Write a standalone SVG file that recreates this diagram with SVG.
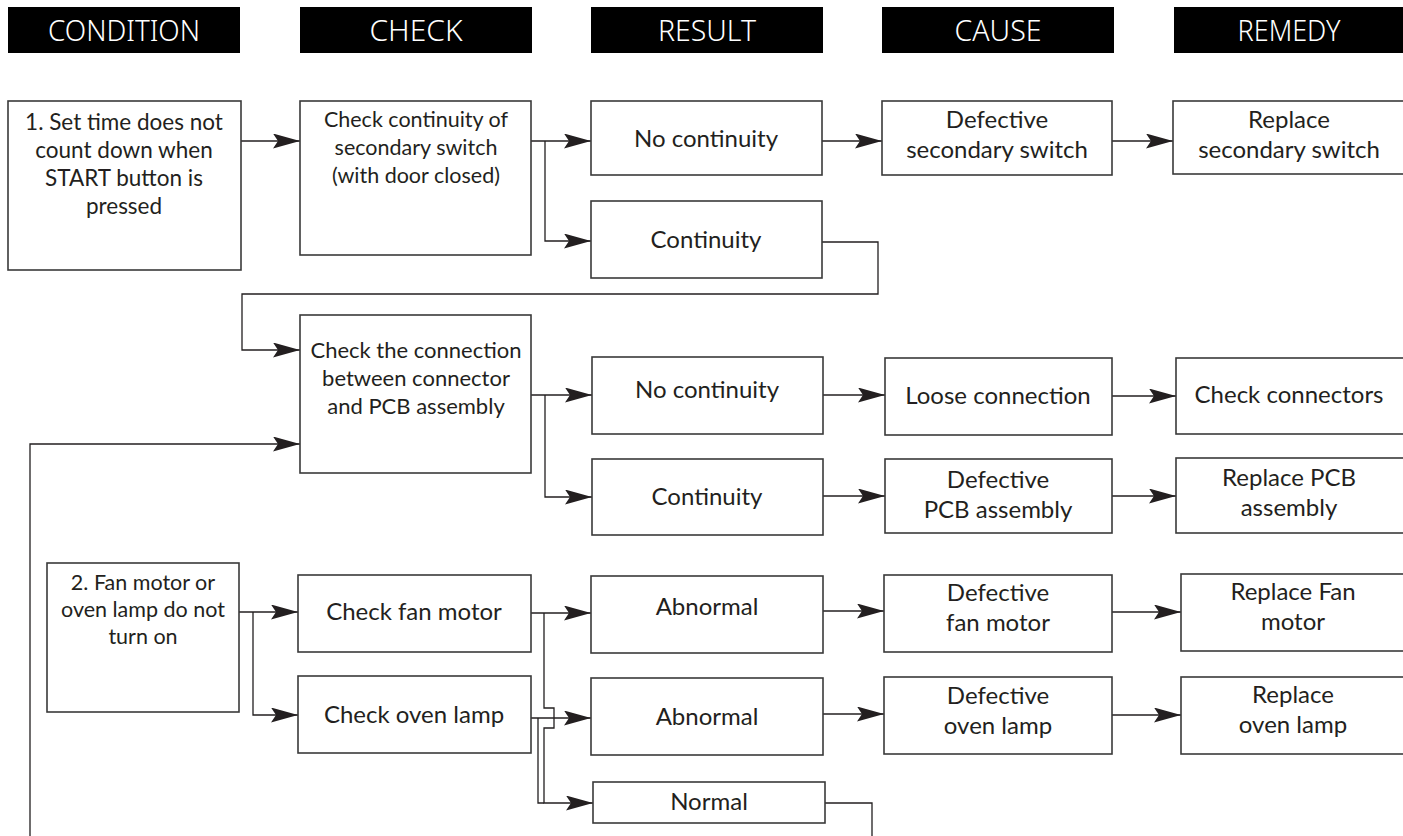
<svg xmlns="http://www.w3.org/2000/svg" width="1403" height="836" viewBox="0 0 1403 836">
<style>
.hdr{fill:#000}
.ht{fill:#fff;font-family:"Noto Sans","DejaVu Sans",sans-serif;font-weight:300;font-size:30px;text-anchor:middle}
.box{fill:#fff;stroke:#3a3a3a;stroke-width:1.6}
.t{fill:#231f20;font-family:Lato,"Liberation Sans",sans-serif;text-anchor:middle}
.s21{font-size:21.5px}.s22{font-size:22px}.s225{font-size:22.5px}.s24{font-size:24px}
.c{fill:none;stroke:#231f20;stroke-width:1.3}
</style>
<defs>
<marker id="ah" markerUnits="userSpaceOnUse" markerWidth="28" markerHeight="16" refX="27" refY="7.5" orient="auto">
<path d="M0,0 L27,7.5 L0,15 L5,7.5 z" fill="#231f20"/>
</marker>
</defs>
<g id="headers">
<rect class="hdr" x="8" y="7" width="232" height="46"/><text class="ht" x="124" y="41" textLength="152" lengthAdjust="spacingAndGlyphs">CONDITION</text>
<rect class="hdr" x="300" y="7" width="232" height="46"/><text class="ht" x="416" y="41" textLength="93" lengthAdjust="spacingAndGlyphs">CHECK</text>
<rect class="hdr" x="591" y="7" width="232" height="46"/><text class="ht" x="707" y="41" textLength="98" lengthAdjust="spacingAndGlyphs">RESULT</text>
<rect class="hdr" x="882" y="7" width="232" height="46"/><text class="ht" x="998" y="41" textLength="87" lengthAdjust="spacingAndGlyphs">CAUSE</text>
<rect class="hdr" x="1174" y="7" width="232" height="46"/><text class="ht" x="1289" y="41" textLength="103" lengthAdjust="spacingAndGlyphs">REMEDY</text>
</g>
<g id="connectors" class="c">
<path d="M241,141 H300" marker-end="url(#ah)"/>
<path d="M531,141 H591" marker-end="url(#ah)"/>
<path d="M545,141 V241 H591" marker-end="url(#ah)"/>
<path d="M822,141 H882" marker-end="url(#ah)"/>
<path d="M1112,141 H1173" marker-end="url(#ah)"/>
<path d="M822,242 H878 V294 H242 V350 H300" marker-end="url(#ah)"/>
<path d="M531,395 H592" marker-end="url(#ah)"/>
<path d="M545,395 V497 H592" marker-end="url(#ah)"/>
<path d="M823,395 H885" marker-end="url(#ah)"/>
<path d="M823,496 H885" marker-end="url(#ah)"/>
<path d="M1112,396 H1176" marker-end="url(#ah)"/>
<path d="M1112,496 H1176" marker-end="url(#ah)"/>
<path d="M239,612 H298" marker-end="url(#ah)"/>
<path d="M253,612 V715 H298" marker-end="url(#ah)"/>
<path d="M531,613 H591" marker-end="url(#ah)"/>
<path d="M544,613 V708 H554 V728 H544 V803 H593" marker-end="url(#ah)"/>
<path d="M531,718 H591" marker-end="url(#ah)"/>
<path d="M538,718 V803 H544"/>
<path d="M823,611 H884" marker-end="url(#ah)"/>
<path d="M823,714 H884" marker-end="url(#ah)"/>
<path d="M1112,612 H1181" marker-end="url(#ah)"/>
<path d="M1112,715 H1181" marker-end="url(#ah)"/>
<path d="M825,803 H872 V836"/>
<path d="M30,836 V444 H300" marker-end="url(#ah)"/>
</g>
<g id="cond1"><rect class="box" x="8" y="101" width="233" height="169"/>
<text class="t s225"><tspan x="124" y="130">1. Set time does not</tspan><tspan x="124" y="158">count down when</tspan><tspan x="124" y="186">START button is</tspan><tspan x="124" y="214">pressed</tspan></text></g>
<g id="check1"><rect class="box" x="300" y="101" width="231" height="154"/>
<text class="t s21"><tspan x="416" y="127">Check continuity of</tspan><tspan x="416" y="155">secondary switch</tspan><tspan x="416" y="183">(with door closed)</tspan></text></g>
<g id="nocont1"><rect class="box" x="591" y="101" width="231" height="74"/>
<text class="t s24" x="706" y="147">No continuity</text></g>
<g id="cont1"><rect class="box" x="591" y="201" width="231" height="77"/>
<text class="t s24" x="706" y="248">Continuity</text></g>
<g id="defsec"><rect class="box" x="882" y="101" width="230" height="74"/>
<text class="t s24"><tspan x="997" y="128">Defective</tspan><tspan x="997" y="158">secondary switch</tspan></text></g>
<g id="repsec"><rect class="box" x="1173" y="101" width="232" height="73"/>
<text class="t s24"><tspan x="1289" y="128">Replace</tspan><tspan x="1289" y="158">secondary switch</tspan></text></g>
<g id="check2"><rect class="box" x="300" y="315" width="231" height="158"/>
<text class="t s22"><tspan x="416" y="358">Check the connection</tspan><tspan x="416" y="386">between connector</tspan><tspan x="416" y="414">and PCB assembly</tspan></text></g>
<g id="nocont2"><rect class="box" x="592" y="357" width="231" height="77"/>
<text class="t s24" x="707" y="398">No continuity</text></g>
<g id="cont2"><rect class="box" x="592" y="459" width="231" height="76"/>
<text class="t s24" x="707" y="505">Continuity</text></g>
<g id="loose"><rect class="box" x="885" y="358" width="227" height="77"/>
<text class="t s24" x="998" y="404">Loose connection</text></g>
<g id="checkconn"><rect class="box" x="1176" y="358" width="230" height="76"/>
<text class="t s24" x="1289" y="403">Check connectors</text></g>
<g id="defpcb"><rect class="box" x="885" y="459" width="227" height="74"/>
<text class="t s24"><tspan x="998" y="488">Defective</tspan><tspan x="998" y="518">PCB assembly</tspan></text></g>
<g id="reppcb"><rect class="box" x="1176" y="458" width="230" height="75"/>
<text class="t s24"><tspan x="1289" y="486">Replace PCB</tspan><tspan x="1289" y="516">assembly</tspan></text></g>
<g id="cond2"><rect class="box" x="47" y="563" width="192" height="149"/>
<text class="t s21"><tspan x="143" y="590">2. Fan motor or</tspan><tspan x="143" y="617">oven lamp do not</tspan><tspan x="143" y="644">turn on</tspan></text></g>
<g id="checkfan"><rect class="box" x="298" y="575" width="233" height="77"/>
<text class="t s24" x="414" y="620">Check fan motor</text></g>
<g id="checkoven"><rect class="box" x="298" y="676" width="233" height="77"/>
<text class="t s24" x="414" y="723">Check oven lamp</text></g>
<g id="abn1"><rect class="box" x="591" y="576" width="232" height="77"/>
<text class="t s24" x="707" y="615">Abnormal</text></g>
<g id="abn2"><rect class="box" x="591" y="678" width="232" height="77"/>
<text class="t s24" x="707" y="725">Abnormal</text></g>
<g id="normal"><rect class="box" x="593" y="782" width="232" height="41"/>
<text class="t s24" x="709" y="810">Normal</text></g>
<g id="deffan"><rect class="box" x="884" y="575" width="228" height="77"/>
<text class="t s24"><tspan x="998" y="601">Defective</tspan><tspan x="998" y="631">fan motor</tspan></text></g>
<g id="defoven"><rect class="box" x="884" y="677" width="228" height="77"/>
<text class="t s24"><tspan x="998" y="704">Defective</tspan><tspan x="998" y="734">oven lamp</tspan></text></g>
<g id="repfan"><rect class="box" x="1181" y="574" width="225" height="77"/>
<text class="t s24"><tspan x="1293" y="600">Replace Fan</tspan><tspan x="1293" y="630">motor</tspan></text></g>
<g id="repoven"><rect class="box" x="1181" y="677" width="225" height="77"/>
<text class="t s24"><tspan x="1293" y="703">Replace</tspan><tspan x="1293" y="733">oven lamp</tspan></text></g>
</svg>
